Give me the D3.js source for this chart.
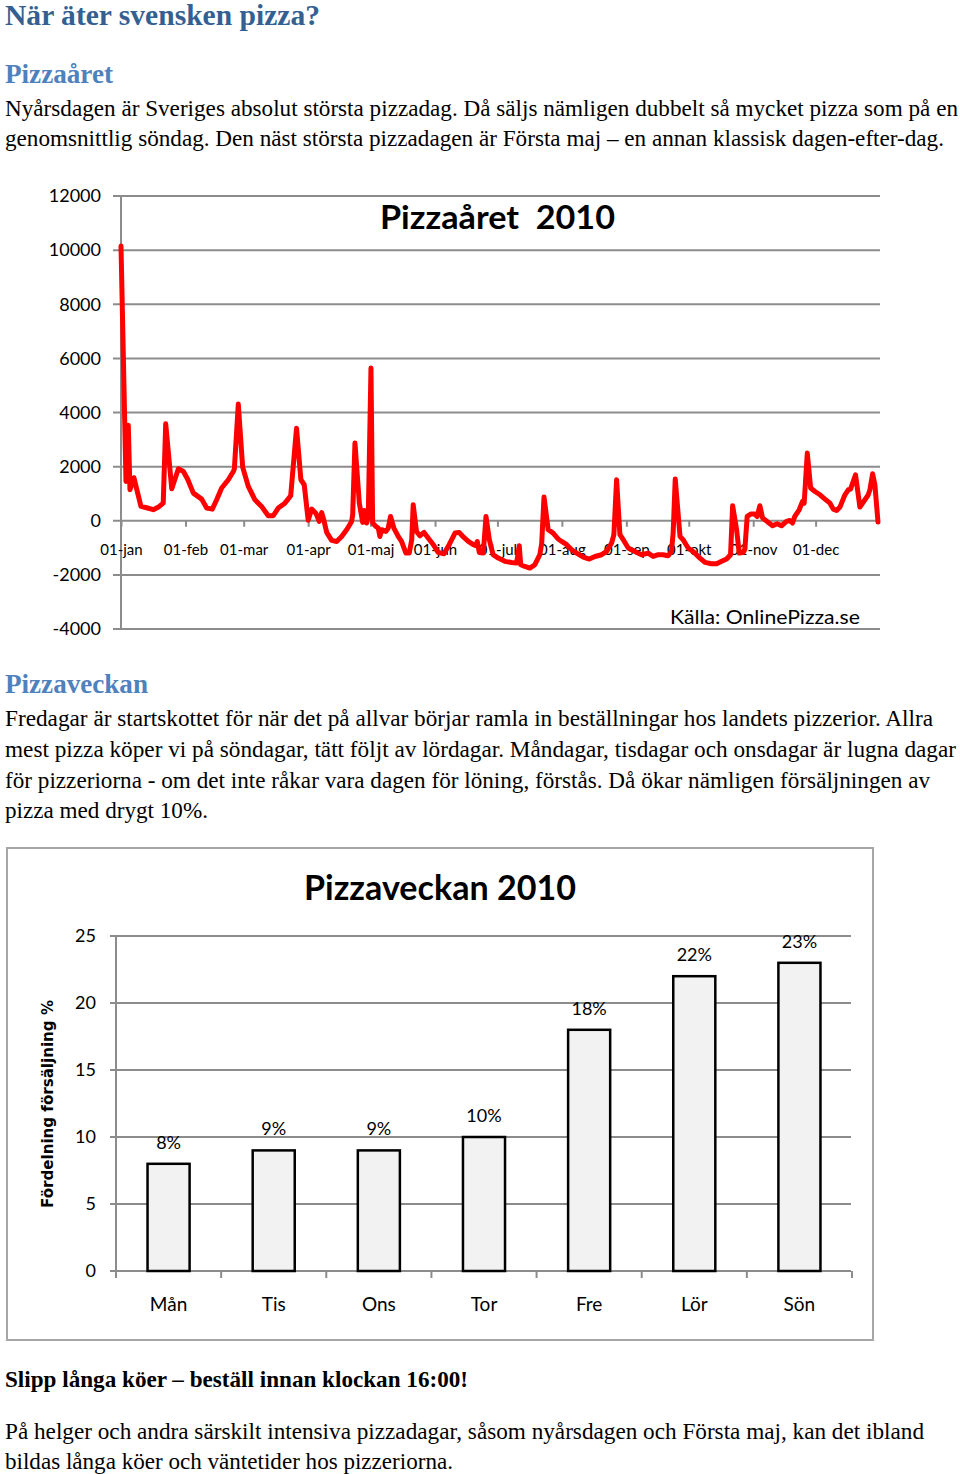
<!DOCTYPE html>
<html><head><meta charset="utf-8">
<script src="https://cdn.jsdelivr.net/npm/d3@7"></script>
<style>body{margin:0;background:#fff}svg{display:block}</style>
</head><body>
<script>
// ---------- data: Pizzaåret 2010 (day of year, sales) ----------
const yearDay = [0,2.4,3.5,4.3,6.2,9.6,12.3,15.5,18,20.3,21.5,24.4,27.6,30,32,34.8,38.8,41.2,43.9,46,48.4,51.6,54,54.5,56.4,58.5,61.2,64.4,67.6,70.8,73.2,75.6,78.8,81.6,84.4,86.5,88.1,90,91.7,93.7,95.3,96.5,97.6,98.9,101.3,103.7,106.1,108.5,110.9,111.4,112.5,114.6,116.2,117,118.1,118.9,120.2,121,122.6,123.7,124.5,125.3,127.4,128.5,129.6,131.2,133.3,134.9,137,138.6,139.8,140.5,142.1,143.7,145.7,147.7,150.2,152.5,155.3,157.8,160.6,162.6,164.6,167,169.4,170.7,171.3,172.3,174.2,175.5,177.1,178.9,181.4,184.6,187.8,190.2,191.5,192.2,194.2,196.6,199,201.4,202.3,203.4,205.4,207.8,210.2,211.9,214.3,216.7,219.1,222.3,225.2,227.9,231.1,233.5,235.9,237,238.3,239.9,241.5,243.9,247.1,250.3,253.5,255.9,258.3,260.7,263.1,264.7,265.5,266.5,268.8,270.3,272.7,275.1,278.4,280.8,283.9,286.4,288.8,291.2,293.1,294.1,296,297.3,299.2,300,301.1,302.8,304.8,305.9,307.2,308.5,310.7,313.3,315.5,317.6,320,321.6,322.9,324,326.1,327.7,328.5,330,331.6,333.7,336.1,338.5,340.9,342.5,344.1,345.7,348.1,349.7,350.8,353.2,355.3,357.7,359.3,360.1,361.4,362.5,364];
const yearSales = [10150,1450,3530,1150,1590,530,480,410,505,650,3580,1180,1920,1820,1540,1020,800,470,430,775,1210,1515,1820,1910,4310,1980,1270,775,530,185,185,470,650,925,3420,1515,1330,20,430,280,-25,300,0,-430,-725,-765,-580,-330,-25,220,2870,650,-60,380,-85,160,5640,-85,-210,-270,-580,-330,-395,-270,160,-270,-580,-765,-1195,-1195,-700,590,-395,-555,-430,-640,-885,-1170,-1220,-885,-455,-430,-600,-765,-885,-925,-765,-1170,-1195,160,-700,-1255,-1380,-1500,-1540,-1565,-925,-1625,-1690,-1750,-1625,-1255,-825,875,-330,-455,-675,-765,-885,-1070,-1195,-1340,-1415,-1320,-1255,-1135,-825,-515,1515,-515,-700,-1010,-1135,-1255,-1195,-1320,-1255,-1255,-1295,-1135,-455,1540,-580,-700,-1010,-1135,-1380,-1540,-1590,-1590,-1500,-1415,-1255,555,-330,-1195,-1170,-1045,160,245,245,160,555,100,-25,-185,-110,-185,-25,10,-85,160,405,715,650,2500,1210,1080,960,800,650,430,380,505,960,1145,1170,1700,505,775,960,1145,1735,1330,-50];
const yearTicks = [-4000,-2000,0,2000,4000,6000,8000,10000,12000];
const monthStartDay = [0,31,59,90,120,151,181,212,243,273,304,334];
const monthLabels = ["01-jan","01-feb","01-mar","01-apr","01-maj","01-jun","01-jul","01-aug","01-sep","01-okt","01-nov","01-dec"];

// ---------- data: Pizzaveckan 2010 ----------
const weekDays = ["Mån","Tis","Ons","Tor","Fre","Lör","Sön"];
const weekShare = [8,9,9,10,18,22,23];
const weekTicks = [0,5,10,15,20,25];

const SERIF = "'Liberation Serif','Times New Roman',serif";
const SANS = "Lato,'Open Sans',sans-serif";
const GRID = "#8c8c8c";

const svg = d3.select("body").append("svg").attr("width",960).attr("height",1474);

function line(str, x, y, size, width, opt={}) {
  const t = svg.append("text").attr("x",x).attr("y",y)
    .attr("font-family", opt.family || SERIF).attr("font-size",size)
    .attr("font-weight", opt.bold ? "bold" : "normal")
    .attr("fill", opt.fill || "#000")
    .style("white-space","pre")
    .text(str);
  if (opt.anchor) t.attr("text-anchor", opt.anchor);
  if (width) t.attr("textLength", width).attr("lengthAdjust","spacingAndGlyphs");
  return t;
}

// ---------- page text ----------
line("När äter svensken pizza?", 5, 25, 29, 315, {bold:true, fill:"#365f91"});
line("Pizzaåret", 5, 83, 27, 108, {bold:true, fill:"#4f81bd"});
line("Nyårsdagen är Sveriges absolut största pizzadag. Då säljs nämligen dubbelt så mycket pizza som på en", 5, 116, 23, 953);
line("genomsnittlig söndag. Den näst största pizzadagen är Första maj – en annan klassisk dagen-efter-dag.", 5, 146, 23, 939);

line("Pizzaveckan", 5, 693, 27, 143, {bold:true, fill:"#4f81bd"});
line("Fredagar är startskottet för när det på allvar börjar ramla in beställningar hos landets pizzerior. Allra", 5, 726, 23, 928);
line("mest pizza köper vi på söndagar, tätt följt av lördagar. Måndagar, tisdagar och onsdagar är lugna dagar", 5, 757, 23, 951);
line("för pizzeriorna - om det inte råkar vara dagen för löning, förstås. Då ökar nämligen försäljningen av", 5, 788, 23, 925);
line("pizza med drygt 10%.", 5, 818, 23, 203);

line("Slipp långa köer – beställ innan klockan 16:00!", 5, 1387, 23, 463, {bold:true});
line("På helger och andra särskilt intensiva pizzadagar, såsom nyårsdagen och Första maj, kan det ibland", 5, 1439, 23, 919);
line("bildas långa köer och väntetider hos pizzeriorna.", 5, 1469, 23, 448);

// ---------- line chart ----------
const lx = d3.scaleLinear().domain([0,364]).range([121,878]);
const ly = d3.scaleLinear().domain([-4000,12000]).range([629,196]);
const lc = svg.append("g");

lc.selectAll("line.grid").data(yearTicks).join("line").attr("class","grid")
  .attr("x1",113).attr("x2",880).attr("y1",d=>ly(d)).attr("y2",d=>ly(d))
  .attr("stroke",GRID).attr("stroke-width",2);
lc.append("line").attr("x1",lx(0)).attr("x2",lx(0)).attr("y1",ly(12000)).attr("y2",ly(-4000))
  .attr("stroke",GRID).attr("stroke-width",2);

const yAx = lc.append("g").attr("transform",`translate(${lx(0)},0)`)
  .call(d3.axisLeft(ly).tickValues(yearTicks).tickSize(0).tickPadding(20).tickFormat(d => String(d)));
yAx.select(".domain").remove();
yAx.selectAll("text").attr("font-family",SANS).attr("font-size",18).attr("fill","#000");

const xAx = lc.append("g").attr("transform",`translate(0,${ly(0)})`)
  .call(d3.axisBottom(lx).tickValues(monthStartDay).tickFormat((d,i)=>monthLabels[i]).tickSize(6).tickPadding(18));
xAx.select(".domain").remove();
xAx.selectAll("line").attr("stroke",GRID).attr("stroke-width",2);
xAx.selectAll("text").attr("font-family",SANS).attr("font-size",15).attr("fill","#000");

lc.append("path")
  .attr("d", d3.line().x((d,i)=>lx(yearDay[i])).y(d=>ly(d))(yearSales))
  .attr("fill","none").attr("stroke","#ff0000").attr("stroke-width",5)
  .attr("stroke-linejoin","round").attr("stroke-linecap","round");

line("Pizzaåret  2010", 497.5, 229, 33, 235, {bold:true, family:SANS, anchor:"middle"});
line("Källa: OnlinePizza.se", 765, 624, 20, 190, {family:SANS, anchor:"middle"});

// ---------- bar chart ----------
const bc = svg.append("g");
bc.append("rect").attr("x",7).attr("y",848).attr("width",866).attr("height",492)
  .attr("fill","#fff").attr("stroke","#a6a6a6").attr("stroke-width",2);

const bx = d3.scaleBand().domain(weekDays).range([116,852]).paddingInner(0.6).paddingOuter(0.3);
const by = d3.scaleLinear().domain([0,25]).range([1271,936]);

bc.selectAll("line.grid").data(weekTicks).join("line").attr("class","grid")
  .attr("x1",110).attr("x2",851).attr("y1",d=>by(d)).attr("y2",d=>by(d))
  .attr("stroke",GRID).attr("stroke-width",2);
bc.append("line").attr("x1",116).attr("x2",116).attr("y1",by(25)).attr("y2",by(0))
  .attr("stroke",GRID).attr("stroke-width",2);

const byAx = bc.append("g").attr("transform","translate(116,0)")
  .call(d3.axisLeft(by).tickValues(weekTicks).tickSize(0).tickPadding(20));
byAx.select(".domain").remove();
byAx.selectAll("text").attr("font-family",SANS).attr("font-size",18).attr("fill","#000");

const bounds = d3.range(weekDays.length + 1).map(i => 116 + i * bx.step());
bc.selectAll("line.btick").data(bounds).join("line").attr("class","btick")
  .attr("x1",d=>d).attr("x2",d=>d).attr("y1",by(0)).attr("y2",by(0)+7)
  .attr("stroke",GRID).attr("stroke-width",2);

bc.selectAll("rect.bar").data(weekShare).join("rect").attr("class","bar")
  .attr("x",(d,i)=>bx(weekDays[i])).attr("y",d=>by(d))
  .attr("width",bx.bandwidth()).attr("height",d=>by(0)-by(d))
  .attr("fill","#f2f2f2").attr("stroke","#000").attr("stroke-width",2.5);

bc.selectAll("text.val").data(weekShare).join("text").attr("class","val")
  .attr("x",(d,i)=>bx(weekDays[i]) + bx.bandwidth()/2).attr("y",d=>by(d)-15)
  .attr("text-anchor","middle").attr("font-family",SANS).attr("font-size",18)
  .text(d=>d+"%");

bc.selectAll("text.cat").data(weekDays).join("text").attr("class","cat")
  .attr("x",d=>bx(d) + bx.bandwidth()/2).attr("y",1311)
  .attr("text-anchor","middle").attr("font-family",SANS).attr("font-size",19)
  .text(d=>d);

line("Pizzaveckan 2010", 440, 900, 34, 272, {bold:true, family:SANS, anchor:"middle"});

bc.append("text").attr("transform","translate(53,1104) rotate(-90)")
  .attr("text-anchor","middle").attr("font-family","'DejaVu Sans',Verdana,sans-serif")
  .attr("font-weight","bold").attr("font-size",15)
  .attr("textLength",208).attr("lengthAdjust","spacingAndGlyphs")
  .text("Fördelning försäljning %");
</script>
</body></html>
